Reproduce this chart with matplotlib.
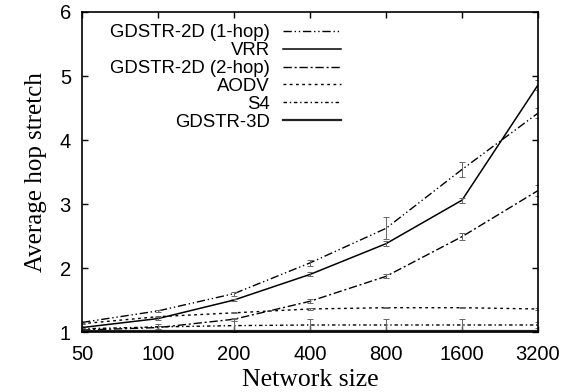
import matplotlib
matplotlib.use('Agg')
import matplotlib.pyplot as plt
import numpy as np

sizes = [50, 100, 200, 400, 800, 1600, 3200]
tick_labels = ['50', '100', '200', '400', '800', '1600', '3200']

gdstr2d_1hop = [1.15, 1.33, 1.60, 2.08, 2.62, 3.54, 4.42]
gdstr2d_1hop_err = [0.02, 0.02, 0.03, 0.05, 0.17, 0.12, 0.08]
vrr = [1.07, 1.21, 1.50, 1.90, 2.38, 3.06, 4.86]
vrr_err = [0.02, 0.02, 0.02, 0.03, 0.04, 0.04, 0.08]
gdstr2d_2hop = [1.03, 1.07, 1.20, 1.48, 1.87, 2.49, 3.21]
gdstr2d_2hop_err = [0.02, 0.03, 0.02, 0.03, 0.03, 0.05, 0.08]
aodv = [1.13, 1.24, 1.30, 1.36, 1.38, 1.38, 1.36]
aodv_err = [0.01, 0.01, 0.01, 0.01, 0.01, 0.01, 0.01]
s4 = [1.05, 1.08, 1.10, 1.11, 1.11, 1.11, 1.11]
s4_err = [0.02, 0.05, 0.10, 0.10, 0.10, 0.10, 0.05]
gdstr3d = [1.02, 1.02, 1.02, 1.02, 1.02, 1.02, 1.02]

fig = plt.figure(figsize=(5.74, 3.92), dpi=100)
ax = fig.add_axes([0.1429, 0.153, 0.7944, 0.8164])

series = [
    ('GDSTR-2D (1-hop)', gdstr2d_1hop, gdstr2d_1hop_err, (0, (6, 2, 1, 2, 1, 2)), 'black', 1.0),
    ('VRR', vrr, vrr_err, '-', 'black', 1.1),
    ('GDSTR-2D (2-hop)', gdstr2d_2hop, gdstr2d_2hop_err, (0, (6, 2, 1.5, 2)), 'black', 1.0),
    ('AODV', aodv, aodv_err, (0, (2, 2.5)), 'black', 1.0),
    ('S4', s4, s4_err, (0, (2.5, 2, 1, 2)), 'black', 1.0),
    ('GDSTR-3D', gdstr3d, None, '-', '#222222', 1.6),
]

for name, vals, err, ls, col, lw in series:
    ax.plot(sizes, vals, linestyle=ls, color=col, linewidth=lw, label=name)
    if err is not None:
        ax.errorbar(sizes, vals, yerr=err, fmt='none', ecolor='#666666',
                    elinewidth=0.7, capsize=2.5, capthick=0.7)

ax.set_xscale('log', base=2)
ax.set_xlim(50, 3200)
ax.set_ylim(1, 6)
ax.set_xticks(sizes)
ax.set_xticklabels(tick_labels)
ax.minorticks_off()
ax.set_yticks([1, 2, 3, 4, 5, 6])
ax.tick_params(direction='in', top=True, right=True, length=4.5, width=1,
               labelsize=14.5)
ax.tick_params(axis='x', pad=9)
ax.tick_params(axis='y', pad=8)
for lab in ax.get_xticklabels() + ax.get_yticklabels():
    lab.set_family('Liberation Sans')
for sp in ax.spines.values():
    sp.set_linewidth(1.2)

ax.set_xlabel('Network size', family='Liberation Serif', fontsize=18.5, labelpad=4)
ax.set_ylabel('Average hop stretch', family='Liberation Serif', fontsize=18, labelpad=9)

leg = ax.legend(loc='upper left', bbox_to_anchor=(0.035, 1.0), frameon=False,
                markerfirst=False, handlelength=3.1, handletextpad=0.7,
                labelspacing=0.05, borderaxespad=0.25,
                prop={'family': 'Liberation Sans', 'size': 13.4})

fig.savefig('out.png', dpi=100)
